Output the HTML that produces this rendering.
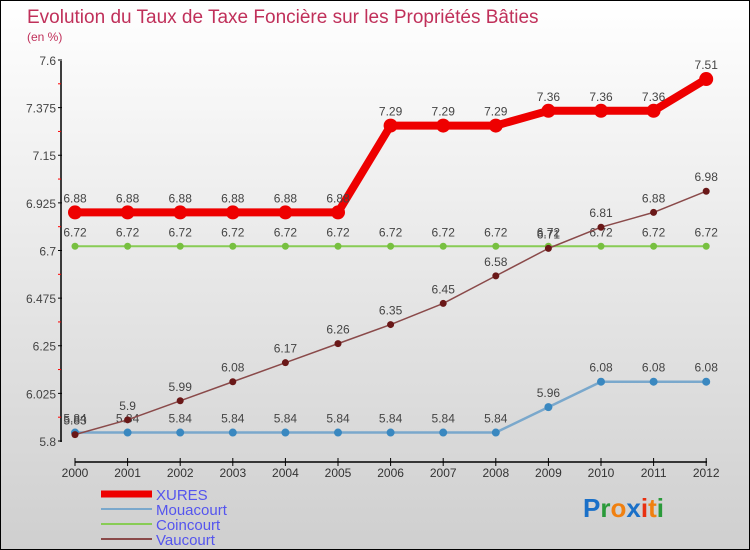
<!DOCTYPE html>
<html><head><meta charset="utf-8"><style>
body{margin:0}
#c{position:relative;width:748px;height:548px;border:1px solid #000;background:linear-gradient(#fff,#cfcfcf);font-family:"Liberation Sans",sans-serif;overflow:hidden}
</style></head><body>
<div id="c">
<svg id="s" width="748" height="548" xmlns="http://www.w3.org/2000/svg"></svg>
</div>
<script>
const years=[2000,2001,2002,2003,2004,2005,2006,2007,2008,2009,2010,2011,2012];
const xures=[6.88,6.88,6.88,6.88,6.88,6.88,7.29,7.29,7.29,7.36,7.36,7.36,7.51];
const mouacourt=[5.84,5.84,5.84,5.84,5.84,5.84,5.84,5.84,5.84,5.96,6.08,6.08,6.08];
const coincourt=[6.72,6.72,6.72,6.72,6.72,6.72,6.72,6.72,6.72,6.72,6.72,6.72,6.72];
const vaucourt=[5.83,5.9,5.99,6.08,6.17,6.26,6.35,6.45,6.58,6.71,6.81,6.88,6.98];
const yTicks=["5.8","6.025","6.25","6.475","6.7","6.925","7.15","7.375","7.6"];
const names=["XURES","Mouacourt","Coincourt","Vaucourt"];
const s=document.getElementById('s');
const NS="http://www.w3.org/2000/svg";
const X=i=>74+i*52.6;
const Y=v=>440-(v-5.8)*211.67;
function el(t,a,p){const e=document.createElementNS(NS,t);for(const k in a)e.setAttribute(k,a[k]);(p||s).appendChild(e);return e;}
function tx(x,y,str,a){const e=el('text',Object.assign({x:x,y:y},a));e.textContent=str;return e;}
let t=tx(26,22,"Evolution du Taux de Taxe Foncière sur les Propriétés Bâties",{fill:"#c0305a","font-size":19});

t=tx(26,40,"(en %)",{fill:"#c0305a","font-size":12});

// axes
let a=el('line',{x1:60,y1:60,x2:60,y2:441,stroke:"#000","stroke-width":1.5});

yTicks.forEach(v=>{const y=Y(+v);el('line',{x1:57,y1:y,x2:61,y2:y,stroke:"#000"});
 const l=tx(55,y+5,v,{"text-anchor":"end","font-size":12,fill:"#444"});
 
 if(+v<7.6)el('line',{x1:57,y1:Y(+v+0.1125),x2:60,y2:Y(+v+0.1125),stroke:"#f00"});});
a=el('line',{x1:74,y1:461,x2:706,y2:461,stroke:"#000","stroke-width":1.5});

years.forEach((yr,i)=>{el('line',{x1:X(i),y1:457,x2:X(i),y2:465,stroke:"#000"});
 const l=tx(X(i),476,yr,{"text-anchor":"middle","font-size":12,fill:"#333"});
 });
function series(d,col,w,r,dot,name,lblCol){
 const g=el('g',{});
 el('polyline',{points:d.map((v,i)=>X(i)+","+Y(v)).join(" "),fill:"none",stroke:col,"stroke-width":w,"stroke-linejoin":"round"},g);
 d.forEach((v,i)=>{const c=el('circle',{cx:X(i),cy:Y(v),r:r,fill:dot},g);
  
  tx(X(i),Y(v)-10,String(v),{"text-anchor":"middle","font-size":12,fill:"#444"},g);});
}
series(coincourt,"#88cc55",2,3.5,"#77c040","coincourt");
series(mouacourt,"#7aa8cc",2.5,4,"#3a88c0","mouacourt");
series(vaucourt,"#8a4a4a",1.5,3.5,"#6a1818","vaucourt");
series(xures,"#ee0000",8,7,"#ee0000","xures");
// legend
const lc=["#ee0000","#7aa8cc","#88cc55","#8a4a4a"],lw=[7,2,2,2];
names.forEach((n,i)=>{const y=493+i*15;const g=el('g',{});
 
 el('line',{x1:100,y1:y,x2:151,y2:y,stroke:lc[i],"stroke-width":lw[i]},g);
 tx(155,y+6,n,{"font-size":15,fill:"#5555ee"},g);});
const lg=el('text',{x:582,y:516,"font-size":26,"font-weight":"bold"});

[["P","#1a70c8"],["r","#2a9a3a"],["o","#f08010"],["x","#1a70c8"],["i","#e83010"],["t","#f08010"],["i","#2a9a3a"]].forEach(([c,f])=>{const ts=el('tspan',{fill:f},lg);ts.textContent=c;});
</script>
</body></html>
